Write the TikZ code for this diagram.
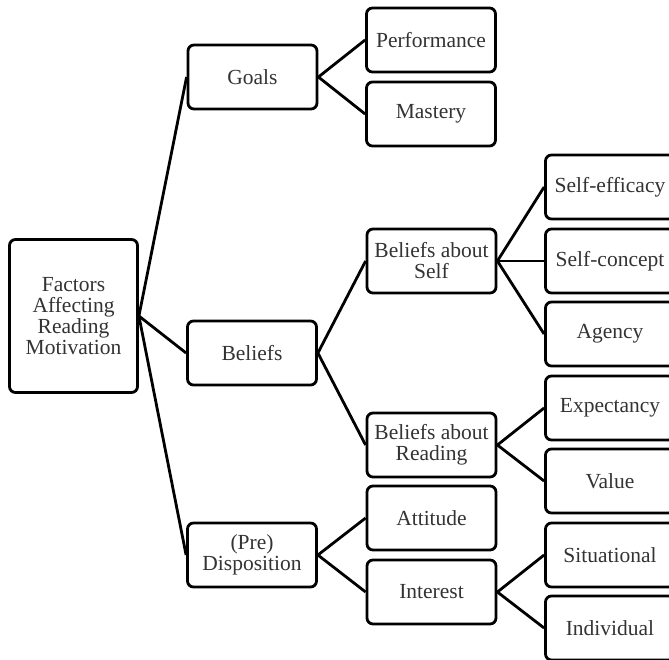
\documentclass[tikz,border=0pt]{standalone}
\usepackage{fontspec}
\setmainfont{Liberation Serif}
\begin{document}
\begin{tikzpicture}[x=1pt,y=-1pt,
  box/.style={draw=black, line width=2.8pt, rounded corners=6pt, fill=white,
    minimum width=129pt, minimum height=64pt, align=center, inner sep=2pt,
    text=black!80, font=\fontsize{21.5}{21}\selectfont},
  rootbox/.style={box, minimum height=153pt, minimum width=128pt},
  link/.style={line width=2.8pt, black}]
\useasboundingbox (0,0) rectangle (669,659);
\clip (0,0) rectangle (669,659);
% nodes
\node[rootbox] (root) at (73.5,316) {Factors\\Affecting\\Reading\\Motivation};
\node[box] (goals) at (252.5,77) {Goals};
\node[box] (beliefs) at (252,353) {Beliefs};
\node[box] (disp) at (252,555) {(Pre)\\Disposition};
\node[box] (perf) at (431,40) {Performance};
\node[box] (mast) at (431,114) {Mastery};
\node[box] (bas) at (431.5,261) {Beliefs about\\Self};
\node[box] (bar) at (431.5,445) {Beliefs about\\Reading};
\node[box] (att) at (431.5,518) {Attitude};
\node[box] (int) at (431.5,592) {Interest};
\node[box] (seff) at (610,187) {Self-efficacy};
\node[box] (scon) at (610,261) {Self-concept};
\node[box] (agen) at (610,334) {Agency};
\node[box] (expe) at (610,408) {Expectancy};
\node[box] (valu) at (610,481) {Value};
\node[box] (situ) at (610,555) {Situational};
\node[box] (indi) at (610,628) {Individual};
% connectors
\draw[link] (root.east) -- (goals.west);
\draw[link] (root.east) -- (beliefs.west);
\draw[link] (root.east) -- (disp.west);
\draw[link] (goals.east) -- (perf.west);
\draw[link] (goals.east) -- (mast.west);
\draw[link] (beliefs.east) -- (bas.west);
\draw[link] (beliefs.east) -- (bar.west);
\draw[link] (disp.east) -- (att.west);
\draw[link] (disp.east) -- (int.west);
\draw[link] (bas.east) -- (seff.west);
\draw[link] (bas.east) -- (scon.west);
\draw[link] (bas.east) -- (agen.west);
\draw[link] (bar.east) -- (expe.west);
\draw[link] (bar.east) -- (valu.west);
\draw[link] (int.east) -- (situ.west);
\draw[link] (int.east) -- (indi.west);
\end{tikzpicture}
\end{document}
